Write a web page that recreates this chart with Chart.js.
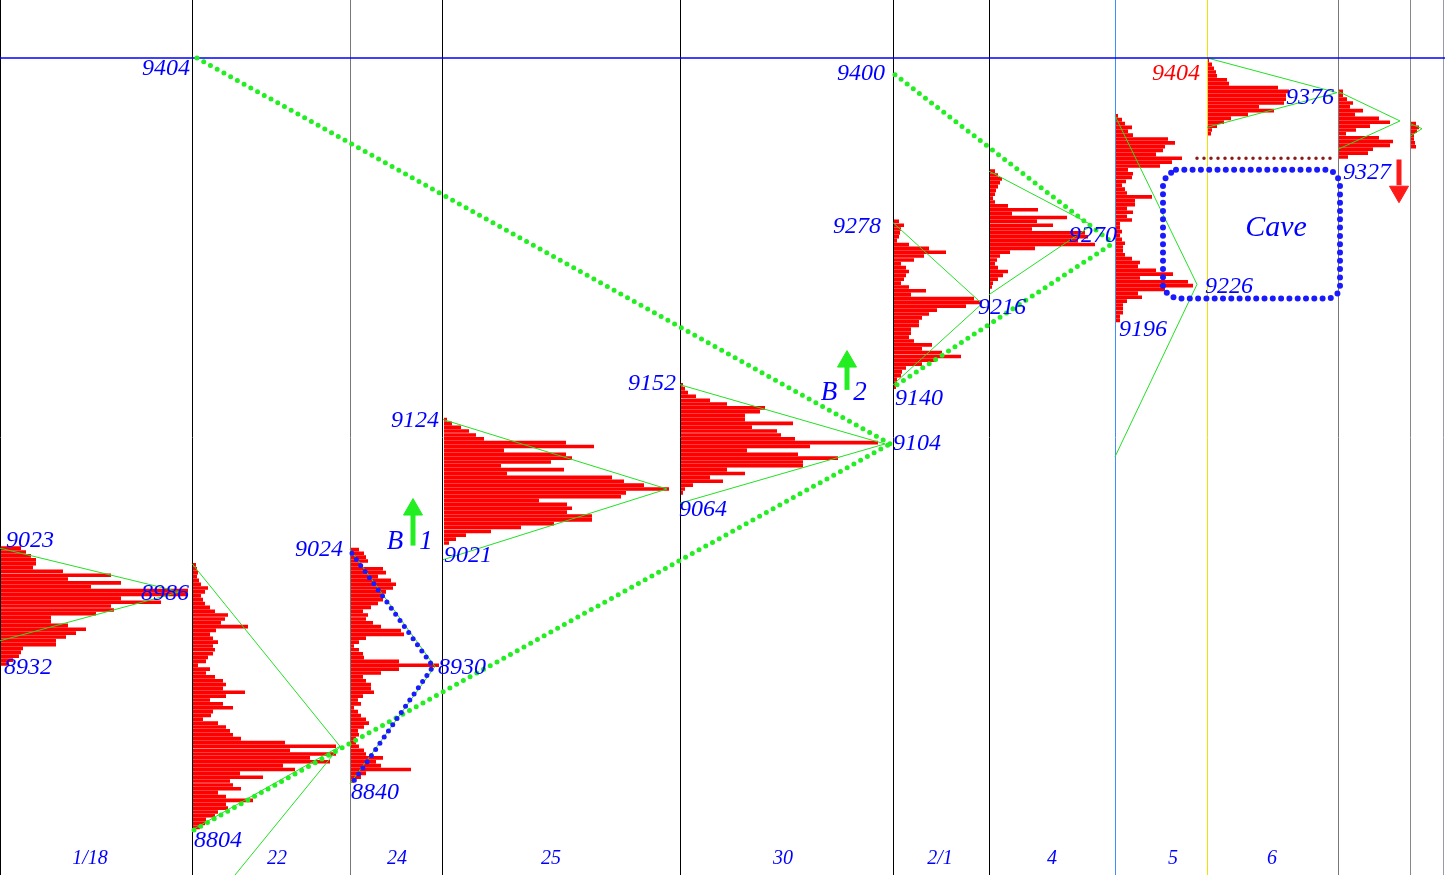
<!DOCTYPE html>
<html>
<head>
<meta charset="utf-8">
<script src="https://cdn.jsdelivr.net/npm/chart.js@4.4.1/dist/chart.umd.min.js"></script>
<style>
html, body { margin: 0; padding: 0; background: #fff; overflow: hidden; }
</style>
</head>
<body>
<canvas id="myChart" width="1445" height="875"></canvas>
<script>
// x = intraday time slot, y = price
const sessionStart = [0, 192, 350, 443, 680, 893, 989, 1115, 1207, 1338, 1410];
const timeEnd = 1445;
const priceMin = 8769, priceMax = 9449;
const dayLabels = ['1/18', '22', '24', '25', '30', '2/1', '4', '5', '6'];
const dayLabelT = [90, 277, 397, 551, 783, 940, 1052, 1173, 1272];
const dayLabelP = 8782;

// TPO profile rows, top price then one length per 3-point row going down
const tpoStep = 3;
const profileHigh = [9023, 9010, 9022, 9123, 9150, 9277, 9316, 9359, 9402, 9378, 9353];
const tpo0118 = [20, 25, 30, 35, 35, 32, 62, 110, 67, 120, 90, 187, 187, 120, 160, 110, 113, 95, 50, 50, 67, 85, 75, 65, 55, 55, 22, 20, 18, 12, 8];
const tpo22 = [3, 4, 5, 4, 6, 8, 15, 12, 8, 10, 12, 17, 22, 35, 32, 28, 55, 23, 17, 20, 25, 20, 22, 20, 15, 13, 5, 17, 13, 22, 30, 33, 30, 52, 33, 17, 30, 40, 20, 18, 10, 25, 33, 37, 40, 48, 92, 143, 97, 143, 117, 137, 90, 102, 47, 70, 37, 40, 48, 25, 33, 60, 33, 35, 25, 22, 13, 12, 7];
const tpo24 = [8, 13, 15, 17, 10, 32, 35, 27, 40, 45, 42, 35, 32, 32, 27, 20, 12, 17, 15, 22, 30, 50, 53, 15, 8, 3, 8, 12, 13, 48, 88, 48, 30, 12, 15, 20, 20, 23, 12, 7, 10, 3, 7, 10, 15, 18, 13, 7, 8, 5, 5, 8, 13, 15, 32, 25, 30, 60, 15, 10, 3];
const tpo25 = [3, 8, 17, 25, 32, 40, 122, 150, 60, 122, 128, 107, 57, 120, 63, 168, 180, 200, 225, 182, 177, 95, 123, 128, 123, 148, 148, 110, 77, 47, 22, 12, 5];
const tpo30 = [2, 4, 7, 15, 29, 46, 84, 79, 64, 64, 112, 71, 96, 100, 114, 197, 129, 66, 117, 157, 122, 122, 46, 64, 29, 42, 12, 4, 2];
const tpo0201 = [5, 10, 7, 6, 5, 3, 15, 35, 52, 30, 20, 7, 12, 15, 12, 10, 7, 15, 32, 17, 80, 88, 72, 43, 35, 28, 25, 25, 17, 17, 15, 20, 38, 28, 48, 67, 42, 28, 12, 8, 7, 3, 3, 2];
const tpo04 = [5, 8, 12, 10, 8, 6, 5, 3, 5, 18, 48, 22, 77, 47, 63, 42, 95, 98, 88, 105, 45, 20, 10, 7, 5, 8, 18, 13, 8, 3, 2];
const tpo05 = [2, 6, 9, 16, 12, 17, 52, 59, 49, 47, 40, 66, 56, 44, 12, 17, 16, 10, 6, 9, 11, 36, 19, 19, 11, 17, 11, 16, 4, 4, 6, 4, 6, 9, 7, 7, 9, 16, 24, 22, 40, 57, 24, 72, 77, 49, 22, 26, 11, 7, 7, 7, 4, 4];
const tpo06 = [1, 4, 6, 8, 9, 19, 21, 70, 81, 78, 78, 76, 51, 66, 40, 23, 16, 9, 4, 3];
const tpo07 = [4, 4, 8, 14, 11, 24, 16, 40, 51, 31, 17, 7, 40, 54, 51, 34, 29, 9];
const tpo08 = [5, 8, 6, 3, 3, 4, 5];
const profiles = [tpo0118, tpo22, tpo24, tpo25, tpo30, tpo0201, tpo04, tpo05, tpo06, tpo07, tpo08];

// triangles: high at session start -> tip -> low at session start
const triTop = [9023, 9011, 9022, 9123, 9150, 9276, 9316, 9359, 9404, 9378, 9353];
const triTipT = [180, 340, 435, 667, 885, 982, 1092, 1197, 1337, 1400, 1422];
const triTip = [8989, 8869, 8931, 9069, 9104, 9213, 9274, 9228, 9377, 9355, 9349];
const triBottom = [8951, 8804, 8840, 9014, 9058, 9150, 9220, 9094, 9350, 9333, 9343];
const extraLine = [[340, 8869], [235, 8769]];

// trend lines
const greenTrends = [
    [[197, 9404], [890, 9104]],
    [[194, 8804], [890, 9104]],
    [[895, 9391], [1113, 9260]],
    [[897, 9150], [1113, 9260]]
];
const blueTrend = [[352, 9019], [433, 8931], [352, 8840]];
const caveBox = [[1176, 9317], [1330, 9317], [1337, 9313], [1340, 9306], [1340, 9226], [1337, 9220], [1330, 9217],
    [1176, 9217], [1168, 9220], [1163, 9226], [1163, 9306], [1167, 9313], [1176, 9317]];
const brownLine = [[1197, 9326], [1333, 9326]];
const highLine = 9404;

// arrows: time, tail price, shaft end price, head price
const upArrows = [[413, 9025, 9049, 9053], [847, 9146, 9165, 9168]];
const downArrows = [[1399, 9325, 9305, 9300]];

// price notes
const noteText = ['9404', '9023', '8986', '8932', '8804', '9024', '8930', '8840', '9124', '9021', '9152', '9064', '9104', '9400', '9278', '9140', '9216', '9270', '9196', '9226', '9404', '9376', '9327'];
const noteT = [166, 30, 165, 28, 218, 319, 462, 375, 415, 468, 652, 703, 917, 861, 857, 919, 1002, 1093, 1143, 1229, 1176, 1310, 1367];
const noteP = [9396, 9029, 8988, 8930, 8796, 9022, 8930, 8833, 9122, 9017, 9151, 9053, 9104, 9392, 9273, 9139, 9210, 9266, 9193, 9226, 9392, 9373, 9315];
const redNote = 20;
const signText = ['B', '1', 'B', '2'];
const signT = [395, 426, 829, 860];
const signP = [9028, 9028, 9144, 9144];

const sepColors = ['#000', '#000', '#777', '#000', '#000', '#000', '#000', '#3b8fff', '#f2e000', '#777', '#888', '#99a'];

const xy = pts => pts.map(p => ({x: p[0], y: p[1]}));
const datasets = [];

profiles.forEach((rows, s) => {
    const pts = [];
    const x0 = sessionStart[s] + 1;
    rows.forEach((len, i) => {
        const p = profileHigh[s] - i * tpoStep;
        pts.push({x: x0, y: p}, {x: x0 + len, y: p}, {x: x0 + len, y: null});
    });
    datasets.push({data: pts, borderColor: '#ff0000', borderWidth: 3.6, borderCapStyle: 'butt', spanGaps: false, order: 6});
});

triTop.forEach((top, s) => {
    datasets.push({
        data: [{x: sessionStart[s], y: top}, {x: triTipT[s], y: triTip[s]}, {x: sessionStart[s], y: triBottom[s]}],
        borderColor: '#22e022', borderWidth: 1, order: 5
    });
});
datasets.push({data: xy(extraLine), borderColor: '#22e022', borderWidth: 1, order: 5});

datasets.push({data: [{x: 0, y: highLine}, {x: timeEnd, y: highLine}], borderColor: '#0000ff', borderWidth: 1.5, order: 4});

greenTrends.forEach(seg => {
    datasets.push({data: xy(seg), borderColor: '#22ee22', borderWidth: 5, borderDash: [0, 7.7], borderCapStyle: 'round', order: 3});
});
datasets.push({data: xy(blueTrend), borderColor: '#1a1aff', borderWidth: 5, borderDash: [0, 7.5], borderCapStyle: 'round', order: 2});
datasets.push({data: xy(caveBox), borderColor: '#1a1aff', borderWidth: 6, borderDash: [0, 8.3], borderCapStyle: 'round', order: 2});
datasets.push({data: xy(brownLine), borderColor: '#8b1a1a', borderWidth: 3.5, borderDash: [0, 7], borderCapStyle: 'round', order: 2});

upArrows.forEach(a => {
    datasets.push({data: [{x: a[0], y: a[1]}, {x: a[0], y: a[2]}], borderColor: '#22ee22', borderWidth: 5, order: 1});
    datasets.push({data: [{x: a[0], y: a[3]}], showLine: false, pointStyle: 'triangle', pointRadius: 11,
        pointBackgroundColor: '#22ee22', pointBorderColor: '#22ee22', order: 1});
});
downArrows.forEach(a => {
    datasets.push({data: [{x: a[0], y: a[1]}, {x: a[0], y: a[2]}], borderColor: '#ff1a1a', borderWidth: 5, order: 1});
    datasets.push({data: [{x: a[0], y: a[3]}], showLine: false, pointStyle: 'triangle', pointRotation: 180, pointRadius: 11,
        pointBackgroundColor: '#ff1a1a', pointBorderColor: '#ff1a1a', order: 1});
});

const textPlugin = {
    id: 'priceNotes',
    afterDatasetsDraw(chart) {
        const {ctx, scales: {x, y}} = chart;
        ctx.save();
        ctx.textAlign = 'center';
        ctx.textBaseline = 'middle';
        const put = (txt, t, p, font, color) => {
            ctx.font = font;
            ctx.fillStyle = color;
            ctx.fillText(txt, x.getPixelForValue(t), y.getPixelForValue(p));
        };
        noteText.forEach((txt, i) => put(txt, noteT[i], noteP[i], 'italic 24px "Liberation Serif"', i === redNote ? '#ff0000' : '#0000ff'));
        signText.forEach((txt, i) => put(txt, signT[i], signP[i], 'italic 27px "Liberation Serif"', '#0000ff'));
        put('Cave', 1276, 9272, 'italic 30px "Liberation Serif"', '#0000ff');
        dayLabels.forEach((txt, i) => put(txt, dayLabelT[i], dayLabelP, 'italic 20px "Liberation Serif"', '#0000ff'));
        ctx.restore();
    }
};

new Chart(document.getElementById('myChart'), {
    type: 'line',
    data: {datasets: datasets},
    options: {
        responsive: false,
        animation: false,
        devicePixelRatio: 1,
        layout: {padding: 0, autoPadding: false},
        elements: {point: {radius: 0}, line: {tension: 0}},
        plugins: {legend: {display: false}, tooltip: {enabled: false}},
        scales: {
            x: {
                type: 'linear', min: 0, max: timeEnd,
                ticks: {display: false},
                border: {display: false},
                grid: {drawTicks: false, lineWidth: 1, color: ctx => sepColors[ctx.index] || '#000'},
                afterBuildTicks: sc => { sc.ticks = sessionStart.concat([timeEnd - 2]).map(v => ({value: v})); }
            },
            y: {type: 'linear', min: priceMin, max: priceMax, display: false}
        }
    },
    plugins: [textPlugin]
});
</script>
</body>
</html>
